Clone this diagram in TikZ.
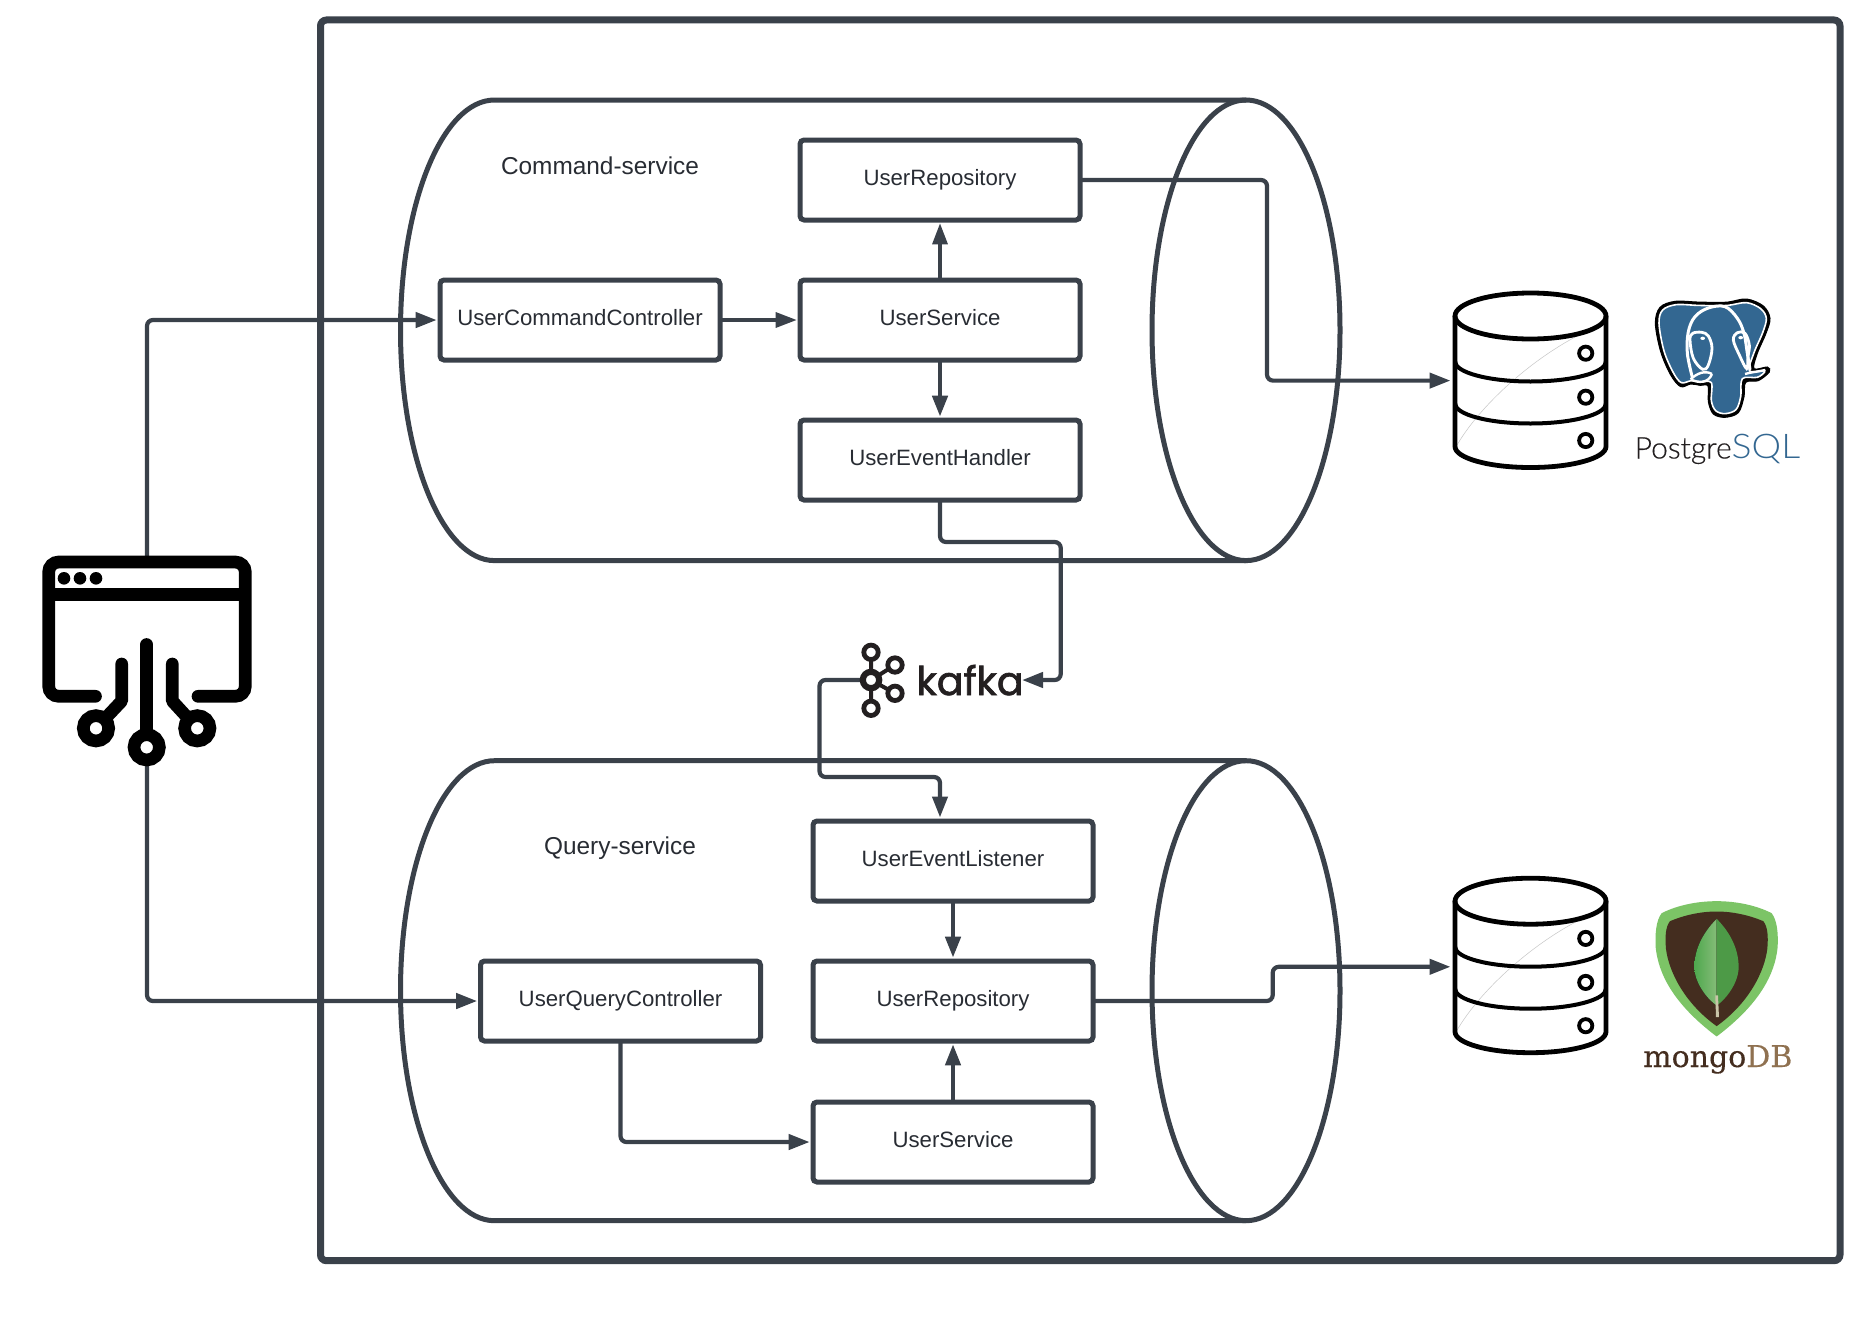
\documentclass[tikz,border=0pt]{standalone}
\usepackage{fontspec}
\setmainfont{Liberation Sans}
\newfontfamily\pgfontlight[FakeBold=0.3]{Lato Light}
\newfontfamily\pgfontsql[FakeStretch=1.1]{Lato Light}
\newfontfamily\kafkafont[FakeBold=1.8]{Poppins}
\newfontfamily\mongofont[FakeBold=0.3]{DejaVu Serif}
\usetikzlibrary{arrows.meta,positioning,calc}
\definecolor{lineC}{HTML}{3A414A}
\definecolor{textC}{HTML}{282C33}
\definecolor{pgblue}{HTML}{336791}
\definecolor{mgbrown}{HTML}{442D1F}
\definecolor{mgdb}{HTML}{8F7150}
\definecolor{mgouter}{HTML}{7CC466}
\definecolor{leafA}{HTML}{4FA84E}
\definecolor{leafB}{HTML}{85BC78}
\definecolor{leafC}{HTML}{4D9A47}
\definecolor{stemC}{HTML}{C9C4A8}
\definecolor{kblack}{HTML}{231F20}
\tikzset{
  box/.style={draw=lineC,line width=5pt,rounded corners=4pt,fill=white,minimum width=280pt,minimum height=80pt,
    inner sep=0pt,outer sep=3.3pt,text=textC,font=\fontsize{22.2}{26}\selectfont,text height=16pt,text depth=6pt,align=center},
  conn/.style={draw=lineC,line width=4.2pt,rounded corners=6pt,shorten <=-2pt,-{Triangle[length=21pt,width=15pt]}},
  thinconn/.style={conn,line width=3.2pt},
  cyl/.style={draw=lineC,line width=5pt},
  lbl/.style={anchor=base,text=textC,font=\fontsize{24.4}{28}\selectfont,inner sep=0pt},
  iconline/.style={line width=12.7pt,line cap=round,black},
  dbline/.style={black,line width=4.8pt},
}
\newcommand{\dbicon}[1]{%
  \begin{scope}[yshift=-#1pt]
    \draw[gray!45,line width=.5pt] (1456.7,445) .. controls (1480,405) and (1530,360) .. (1578,335);
    \draw[dbline] (1530.5,315.5) ellipse [x radius=75.5pt,y radius=23pt];
    \draw[dbline,line join=round] (1455,315.5) -- (1455,446) arc [start angle=180,end angle=360,x radius=75.5pt,y radius=21pt] -- (1606,315.5);
    \draw[dbline,line width=4pt] (1455,361) arc [start angle=180,end angle=360,x radius=75.5pt,y radius=20pt];
    \draw[dbline,line width=4pt] (1455,403) arc [start angle=180,end angle=360,x radius=75.5pt,y radius=20pt];
    \foreach \yy in {352.7,396.7,440} \draw[black,line width=3.8pt] (1585.7,\yy) circle [radius=6.6pt];
  \end{scope}}
\begin{document}
\begin{tikzpicture}[x=1pt,y=-1pt]
\useasboundingbox (0,0) rectangle (1870,1322);
\fill[white] (0,0) rectangle (1870,1322);
% outer frame
\draw[draw=lineC,line width=7pt,rounded corners=6pt] (320.5,20) rectangle (1840,1260.7);
% cylinders
\draw[cyl] (1246,100) -- (494.5,100) arc [start angle=90,end angle=270,x radius=94pt,y radius=230.3pt] -- (1246,560.6);
\draw[cyl] (1246,330.3) ellipse [x radius=94pt,y radius=230.3pt];
\draw[cyl] (1246,760.7) -- (494.5,760.7) arc [start angle=90,end angle=270,x radius=94pt,y radius=230pt] -- (1246,1220.7);
\draw[cyl] (1246,990.7) ellipse [x radius=94pt,y radius=230pt];
% labels
\node[lbl] (cmdlabel) at (600,174) {Command-service};
\node[lbl] (qrylabel) at (620,854) {Query-service};
% boxes
\node[box] (crepo) at (940,180) {UserRepository};
\node[box] (csvc) at (940,320) {UserService};
\node[box] (chandler) at (940,460) {UserEventHandler};
\node[box] (cctrl) at (580,320) {UserCommandController};
\node[box] (qlisten) at (953,861) {UserEventListener};
\node[box] (qrepo) at (953,1001) {UserRepository};
\node[box] (qsvc) at (953,1142) {UserService};
\node[box] (qctrl) at (620.5,1001) {UserQueryController};
% anchor points
\coordinate (iconTop) at (147,558);
\coordinate (iconBot) at (147,760);
\coordinate (db1In) at (1450.5,380.6);
\coordinate (db2In) at (1450.5,966.8);
\coordinate (kafkaIn) at (1022,680);
\coordinate (kafkaOut) at (862,680);
% connectors
\draw[conn] (iconTop) |- (cctrl.west);
\draw[conn] (iconBot) |- (qctrl.west);
\draw[thinconn] (cctrl.east) -- (csvc.west);
\draw[thinconn] (csvc.north) -- (crepo.south);
\draw[conn,line width=4.5pt] (csvc.south) -- (chandler.north);
\draw[conn] (crepo.east |- 0,180) -- (1267,180) -- (1267,380.6) -- (db1In);
\draw[conn] (chandler.south) -- (940,542) -- (1060.7,542) -- (1060.7,680) -- (kafkaIn);
\draw[conn] (kafkaOut) -- (819.5,680) -- (819.5,777) -- (940,777) -- (940,817.5);
\draw[conn,line width=4.5pt] (qlisten.south) -- (qrepo.north);
\draw[conn] (qsvc.north) -- (qrepo.south);
\draw[conn] (qctrl.south) -- (620.5,1142) -- (qsvc.west);
\draw[conn] (qrepo.east) -- (1272.7,1001) -- (1272.7,966.8) -- (db2In);
% databases
\dbicon{0.5}
\dbicon{585.7}
% client icon
\draw[black,line width=12.7pt,line cap=round,rounded corners=10pt] (95.5,696.3) -- (48.7,696.3) -- (48.7,562) -- (245.3,562) -- (245.3,696.3) -- (198,696.3);
\draw[black,line width=12.7pt] (48.7,594.3) -- (245.3,594.3);
\foreach \xx in {64,80,96} \fill[black] (\xx,578.3) circle [radius=6.3pt];
\draw[iconline] (146.7,644.5) -- (146.7,735);
\draw[iconline,line join=round] (121.7,664) -- (121.7,701) -- (96,728.3);
\draw[iconline,line join=round] (172.3,664) -- (172.3,701) -- (197.3,728.3);
\foreach \cx/\cy in {146.7/747.3,96/728.3,197.3/728.3}
  \draw[black,fill=white,line width=12.6pt] (\cx,\cy) circle [radius=12.7pt];
% kafka logo
\draw[kblack,line width=4pt] (871,652) -- (871,708) (871,680) -- (895,665) (871,680) -- (895,693.3);
\foreach \cx/\cy in {871/652.3,871/708.3,895/665,895/693.3}
  \draw[kblack,fill=white,line width=4.8pt] (\cx,\cy) circle [radius=7.2pt];
\draw[kblack,fill=white,line width=6.2pt] (871,680) circle [radius=8.2pt];
\node[anchor=base west,inner sep=0pt,text=kblack,font=\kafkafont\fontsize{39.5}{40}\selectfont] (kafkaword) at (916.3,695) {kafka};
% PostgreSQL logo
\begin{scope}[shift={(1650,290)},x=0.3333pt,y=-0.3333pt]
  \filldraw[black,line width=1pt] plot[smooth cycle,tension=0.55] coordinates {(75,34) (30,52) (16,100) (32,185) (62,255) (92,290) (122,282) (150,286) (174,288) (175,335) (190,372) (225,382) (265,368) (282,320) (287,277) (325,272) (358,246) (352,231) (312,236) (322,190) (348,130) (360,85) (340,48) (290,27) (235,36) (190,37) (140,36)};
  \draw[white,fill=pgblue,line width=1.6pt] plot[smooth cycle,tension=0.55] coordinates {(78,44) (38,60) (27,100) (42,183) (70,248) (94,278) (124,272) (150,276) (184,278) (184,332) (197,362) (225,371) (258,359) (272,320) (277,266) (322,262) (344,243) (298,242) (312,188) (338,128) (349,85) (332,56) (290,38) (235,46) (190,47) (140,46)};
  \draw[white,line width=3pt,line cap=round] plot[smooth,tension=0.6] coordinates {(127,262) (112,190) (115,125) (135,80) (175,54) (225,50) (262,85) (282,130) (292,190) (300,238)};
  \draw[white,line width=2.8pt] plot[smooth cycle,tension=0.6] coordinates {(120,150) (128,130) (155,127) (175,138) (186,175) (175,225) (158,238) (130,205)};
  \draw[white,line width=2.8pt] plot[smooth cycle,tension=0.6] coordinates {(250,150) (262,128) (285,130) (298,165) (294,200) (290,236) (268,195)};
  \fill[white] (158,145) ellipse [x radius=7,y radius=5];
  \fill[white] (272,143) ellipse [x radius=7,y radius=5];
  \draw[white,line width=2.4pt] (122,268) .. controls (140,250) and (165,240) .. (186,252);
  \draw[white,line width=2.4pt] (122,268) .. controls (145,280) and (175,280) .. (186,252);
  \draw[white,line width=2.4pt] (285,252) .. controls (305,246) and (325,245) .. (346,240);
\end{scope}
\node[anchor=base west,inner sep=0pt,font=\fontsize{30}{32}\selectfont] (pgword) at (1634.5,458.5) {\pgfontlight\color{kblack}Postgre\pgfontsql\fontsize{34}{36}\selectfont\color{pgblue}SQL};
% MongoDB logo
\begin{scope}[shift={(1430,860.5)},x=0.3333pt,y=-0.3333pt]
  \fill[mgouter] (860,122) .. controls (800,122) and (740,135) .. (695,158) .. controls (678,180) and (675,220) .. (677,260) .. controls (685,340) and (730,430) .. (860,528) .. controls (990,430) and (1035,340) .. (1043,260) .. controls (1045,220) and (1042,180) .. (1025,158) .. controls (980,135) and (920,122) .. (860,122) -- cycle;
  \fill[mgbrown] (860,153) .. controls (810,153) and (760,165) .. (720,182) .. controls (706,200) and (705,230) .. (708,265) .. controls (716,330) and (760,425) .. (860,497) .. controls (960,425) and (1004,330) .. (1012,265) .. controls (1015,230) and (1014,200) .. (1000,182) .. controls (960,165) and (910,153) .. (860,153) -- cycle;
  \fill[left color=leafA,right color=leafB] (860,175) .. controls (820,215) and (793,265) .. (793,320) .. controls (793,365) and (830,415) .. (860,435) -- cycle;
  \fill[leafC] (860,175) .. controls (900,215) and (926,265) .. (926,320) .. controls (926,365) and (890,415) .. (860,435) -- cycle;
  \fill[stemC] (856,405) -- (864,405) -- (867,470) -- (858,470) -- cycle;
\end{scope}
\node[anchor=base west,inner sep=0pt,font=\mongofont\fontsize{30}{32}\selectfont] (mgword) at (1643,1067) {\color{mgbrown}mongo\color{mgdb}DB};
\end{tikzpicture}
\end{document}
